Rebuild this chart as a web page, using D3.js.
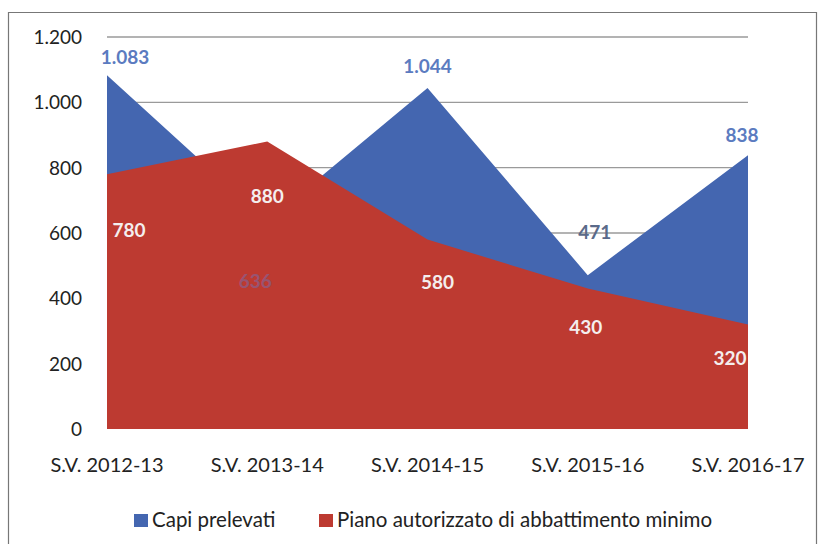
<!DOCTYPE html>
<html><head><meta charset="utf-8">
<script src="https://cdn.jsdelivr.net/npm/d3@7"></script>
<style>body{margin:0;background:#fff}svg{display:block}</style>
</head><body>
<svg id="c" width="821" height="544"></svg>
<script>
const categories = ["S.V. 2012-13","S.V. 2013-14","S.V. 2014-15","S.V. 2015-16","S.V. 2016-17"];
const capiPrelevati = [1083, 636, 1044, 471, 838];
const pianoAutorizzato = [780, 880, 580, 430, 320];
const yTicks = [0, 200, 400, 600, 800, 1000, 1200];
const seriesNames = ["Capi prelevati", "Piano autorizzato di abbattimento minimo"];

const fmt = d => d3.format(",")(d).replace(/,/g, ".");
const font = "Lato, 'Open Sans', sans-serif";
const blue = "#4466b0", red = "#bd3a31";

const svg = d3.select("#c");
// frame
svg.append("path").attr("d","M8.5,560 L8.5,12.5 L816.5,12.5 L816.5,560")
  .attr("fill","none").attr("stroke","#777").attr("stroke-width",1.2);

const x = d3.scalePoint().domain(categories).range([107, 748]);
const y = d3.scaleLinear().domain([0, 1200]).range([429, 37]);

// gridlines
svg.append("g").selectAll("line").data(yTicks.filter(d=>d>0)).join("line")
  .attr("x1",107).attr("x2",748).attr("y1",d=>y(d)).attr("y2",d=>y(d))
  .attr("stroke","#9a9a9a").attr("stroke-width",1.3);

const area = vals => d3.area().x((d,i)=>x(categories[i])).y0(y(0)).y1(d=>y(d))(vals);
svg.append("path").attr("d", area(capiPrelevati)).attr("fill", blue);
svg.append("path").attr("d", area(pianoAutorizzato)).attr("fill", red);

// y axis labels
svg.append("g").selectAll("text").data(yTicks).join("text")
  .attr("x",82).attr("y",d=>y(d)).attr("dy","0.36em").attr("text-anchor","end")
  .attr("font-family",font).attr("font-size",19).attr("fill","#222").text(d=>fmt(d));

// x axis labels
svg.append("g").selectAll("text").data(categories).join("text")
  .attr("x",d=>x(d)).attr("y",465).attr("dy","0.35em").attr("text-anchor","middle")
  .attr("font-family",font).attr("font-size",20).attr("fill","#222").text(d=>d);

// data labels (layout offsets)
const blueDx = [18, -12, 0, 7, -6], blueDy = [-18, 60, -22, -43, -20];
const blueCol = ["#5b7bc0","#7a6aa8","#5b7bc0","#5a6a8a","#5b7bc0"];
svg.append("g").selectAll("text").data(capiPrelevati).join("text")
  .attr("x",(d,i)=>x(categories[i])+blueDx[i]).attr("y",(d,i)=>y(d)+blueDy[i])
  .attr("dy","0.35em").attr("text-anchor","middle")
  .attr("font-family",font).attr("font-size",19).attr("font-weight","bold")
  .attr("fill",(d,i)=>blueCol[i]).attr("opacity",(d,i)=>i===1?0.55:1).text(d=>fmt(d));

const redDx = [22, 0, 10, -2, -18], redDy = [56, 55, 43, 39, 34];
svg.append("g").selectAll("text").data(pianoAutorizzato).join("text")
  .attr("x",(d,i)=>x(categories[i])+redDx[i]).attr("y",(d,i)=>y(d)+redDy[i])
  .attr("dy","0.35em").attr("text-anchor","middle")
  .attr("font-family",font).attr("font-size",19).attr("font-weight","bold")
  .attr("fill","#f4eeee").text(d=>fmt(d));

// legend
const lg = svg.append("g");
const lx = [134, 319];
seriesNames.forEach((n,i)=>{
  lg.append("rect").attr("x",lx[i]).attr("y",514).attr("width",14).attr("height",13)
    .attr("fill", i===0?blue:red);
  lg.append("text").attr("x",lx[i]+18).attr("y",520).attr("dy","0.35em")
    .attr("font-family",font).attr("font-size",20.5).attr("fill","#222").text(n);
});
</script>
</body></html>
